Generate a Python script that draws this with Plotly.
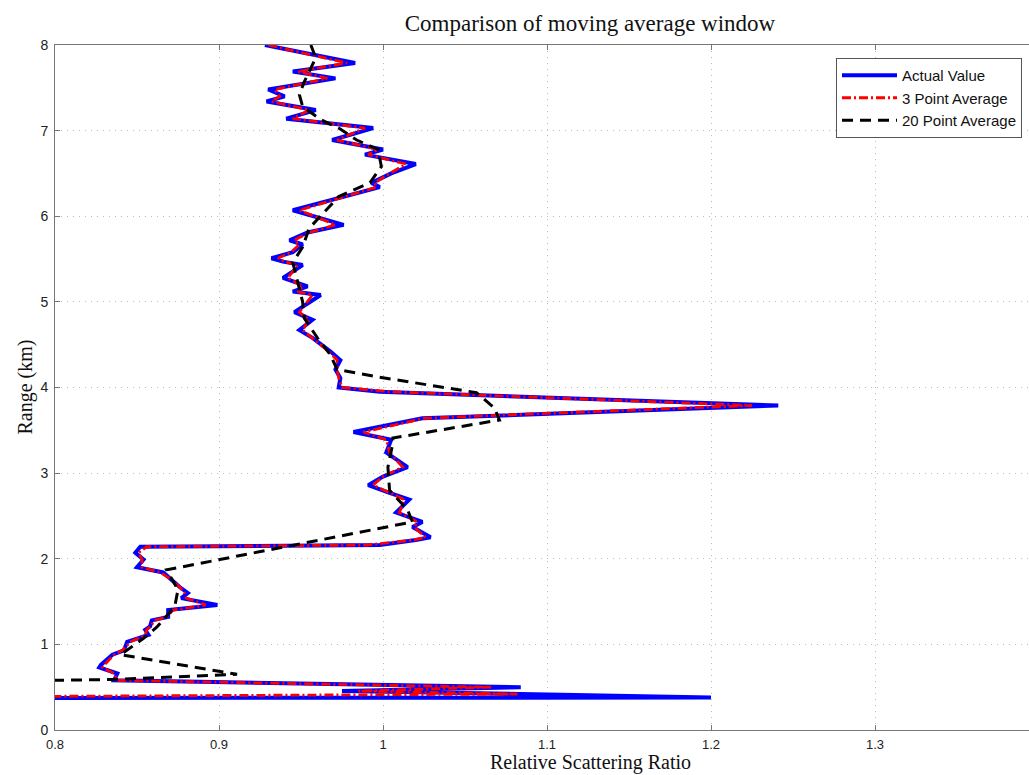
import plotly.graph_objects as go

# Range (km) of each sample, top of the profile down to the ground
range_km = [8.0, 7.79, 7.69, 7.61, 7.48, 7.40, 7.34, 7.24, 7.14, 7.03,
            6.89, 6.78, 6.72, 6.61, 6.50, 6.39, 6.34, 6.07, 5.90, 5.81,
            5.72, 5.67, 5.58, 5.51, 5.47, 5.43, 5.28, 5.18, 5.12, 5.08,
            4.88, 4.79, 4.67, 4.58, 4.42, 4.32, 4.21, 4.11, 4.00, 3.95,
            3.79, 3.68, 3.64, 3.48, 3.39, 3.24, 3.07, 2.96, 2.86, 2.77,
            2.69, 2.54, 2.43, 2.37, 2.25, 2.22, 2.16, 2.14, 2.07, 1.99,
            1.90, 1.84, 1.77, 1.67, 1.60, 1.54, 1.46, 1.44, 1.40, 1.32,
            1.28, 1.21, 1.17, 1.11, 1.03, 0.93, 0.88, 0.76, 0.73, 0.66,
            0.58, 0.50, 0.455, 0.42, 0.38, 0.37]

# Measured relative scattering ratio
actual_value = [0.928, 0.983, 0.945, 0.971, 0.930, 0.940, 0.929, 0.959, 0.941, 0.994,
                0.969, 1.000, 0.989, 1.020, 1.005, 0.993, 0.998, 0.945, 0.976, 0.954,
                0.943, 0.951, 0.945, 0.932, 0.939, 0.951, 0.939, 0.954, 0.945, 0.962,
                0.946, 0.957, 0.949, 0.957, 0.968, 0.974, 0.971, 0.974, 0.973, 0.998,
                1.241, 1.069, 1.024, 0.982, 1.005, 1.002, 1.015, 1.000, 0.991, 1.004,
                1.016, 1.008, 1.024, 1.018, 1.029, 1.020, 0.998, 0.852, 0.849, 0.854,
                0.850, 0.866, 0.870, 0.876, 0.881, 0.877, 0.899, 0.887, 0.869, 0.869,
                0.859, 0.858, 0.855, 0.857, 0.844, 0.842, 0.835, 0.828, 0.827, 0.838,
                0.836, 1.084, 0.975, 1.084, 1.200, 0.600]

# 3 point moving average on the same range samples
avg3_value = [0.930, 0.978, 0.948, 0.966, 0.934, 0.937, 0.932, 0.955, 0.945, 0.989,
              0.972, 0.997, 0.991, 1.014, 1.004, 0.995, 0.996, 0.949, 0.971, 0.955,
              0.946, 0.949, 0.944, 0.936, 0.940, 0.948, 0.942, 0.951, 0.948, 0.957,
              0.949, 0.955, 0.951, 0.957, 0.967, 0.972, 0.972, 0.973, 0.975, 1.005,
              1.225, 1.075, 1.025, 0.988, 1.002, 1.004, 1.012, 1.000, 0.994, 1.004,
              1.013, 1.010, 1.021, 1.019, 1.026, 1.019, 0.990, 0.856, 0.851, 0.853,
              0.853, 0.864, 0.870, 0.876, 0.879, 0.880, 0.892, 0.886, 0.872, 0.868,
              0.861, 0.858, 0.856, 0.855, 0.846, 0.841, 0.836, 0.830, 0.829, 0.836,
              0.838, 1.066, 0.985, 1.082, 0.700, 0.550]

# 20 point moving average
range20_km = [8.0, 7.85, 7.69, 7.57, 7.42, 7.28, 7.13, 7.03, 6.89, 6.78,
              6.58, 6.39, 6.23, 6.02, 5.86, 5.64, 5.46, 5.23, 5.00, 4.81,
              4.58, 4.38, 4.21, 4.12, 4.00, 3.94, 3.76, 3.62, 3.41, 3.35,
              3.07, 2.80, 2.57, 2.43, 1.87, 1.64, 1.44, 1.20, 1.07, 0.88,
              0.65, 0.59, 0.55]
avg20_value = [0.956, 0.959, 0.955, 0.952, 0.949, 0.951, 0.962, 0.973, 0.984, 0.997,
               0.999, 0.992, 0.973, 0.963, 0.955, 0.951, 0.945, 0.948, 0.951, 0.952,
               0.960, 0.968, 0.972, 0.998, 1.039, 1.057, 1.068, 1.071, 1.006, 1.006,
               1.003, 1.004, 1.015, 1.018, 0.868, 0.875, 0.873, 0.862, 0.854, 0.840,
               0.911, 0.835, 0.700]

x_ticks = [0.8, 0.9, 1.0, 1.1, 1.2, 1.3]
x_tick_labels = ["0.8", "0.9", "1", "1.1", "1.2", "1.3"]
y_ticks = [0, 1, 2, 3, 4, 5, 6, 7, 8]

W, H = 1029, 775
ML, MR, MT, MB = 55, 0, 45, 45
PW, PH = W - ML - MR, H - MT - MB
CENTER_X = (590 - ML) / PW

fig = go.Figure()
fig.add_trace(go.Scatter(x=actual_value, y=range_km, mode="lines", name="Actual Value",
                         line=dict(color="#0000ff", width=4)))
fig.add_trace(go.Scatter(x=avg3_value, y=range_km, mode="lines", name="3 Point Average",
                         line=dict(color="#ff0000", width=2.8, dash="9px,3px,2px,3px")))
fig.add_trace(go.Scatter(x=avg20_value, y=range20_km, mode="lines", name="20 Point Average",
                         line=dict(color="#000000", width=3, dash="11px,7px")))

serif = "Liberation Serif, Times New Roman, serif"
sans = "Liberation Sans, Arial, sans-serif"

grid = dict(showgrid=True, gridcolor="#bdbdbd", griddash="1px,5px", gridwidth=1,
            zeroline=False, showline=True, linecolor="#777", linewidth=1,
            ticks="inside", ticklen=5, tickcolor="#777")

fig.update_layout(
    width=W, height=H,
    margin=dict(l=ML, r=MR, t=MT, b=MB),
    paper_bgcolor="white", plot_bgcolor="white",
    font=dict(family=sans, size=14, color="#222"),
    title=dict(text="Comparison of moving average window", xref="paper", x=CENTER_X,
               xanchor="center", yref="container", y=1 - 23 / H, yanchor="middle",
               font=dict(family=serif, size=23, color="#111")),
    showlegend=True,
    legend=dict(x=(1022 - ML) / PW, y=1 - 13 / PH, xanchor="right", yanchor="top",
                bgcolor="white", bordercolor="#555", borderwidth=1,
                font=dict(family=sans, size=15, color="#111"),
                itemwidth=55, tracegroupgap=0),
    xaxis=dict(range=[0.8, 0.8 + PW / 1640], tickvals=x_ticks, ticktext=x_tick_labels,
               mirror="ticks", ticklabelstandoff=2,
               tickfont=dict(family=sans, size=13, color="#222"), **grid),
    yaxis=dict(range=[0, 8], tickvals=y_ticks, ticklabelstandoff=3,
               tickfont=dict(family=sans, size=14, color="#222"), **grid),
    annotations=[
        dict(text="Relative Scattering Ratio", xref="paper", yref="paper",
             x=CENTER_X, y=-(762 - (MT + PH)) / PH, xanchor="center", yanchor="middle",
             showarrow=False, font=dict(family=serif, size=20, color="#111")),
        dict(text="Range (km)", xref="paper", yref="paper", textangle=-90,
             x=(25 - ML) / PW, y=0.5, xanchor="center", yanchor="middle",
             showarrow=False, font=dict(family=serif, size=20, color="#111")),
    ],
)

fig.write_html("out.html")
